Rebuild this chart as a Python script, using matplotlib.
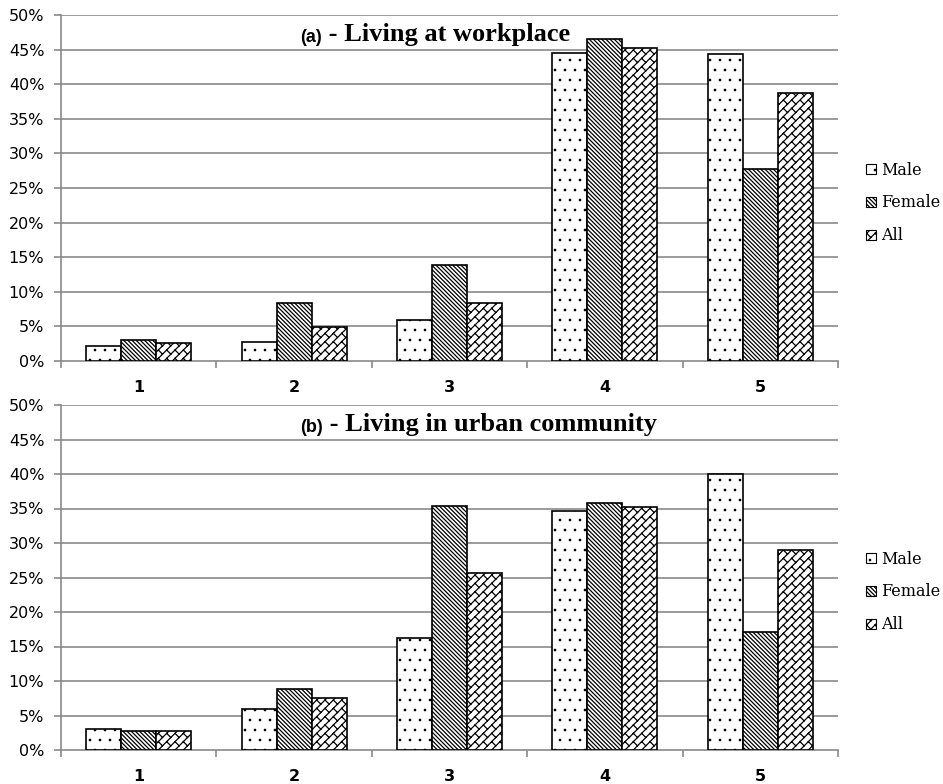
import warnings
warnings.filterwarnings('ignore')
import numpy as np
import matplotlib
matplotlib.use('Agg')
import matplotlib.pyplot as plt
import matplotlib.hatch as mhatch
from matplotlib.path import Path
from matplotlib.patches import Patch

# ---------------- data ----------------
categories = ['1', '2', '3', '4', '5']
series = ['Male', 'Female', 'All']
work_male = [2.2, 2.8, 5.9, 44.5, 44.4]
work_female = [3.0, 8.4, 13.9, 46.5, 27.7]
work_all = [2.6, 4.9, 8.4, 45.2, 38.7]
urban_male = [3.0, 6.0, 16.2, 34.6, 40.0]
urban_female = [2.8, 8.8, 35.4, 35.8, 17.1]
urban_all = [2.8, 7.5, 25.6, 35.2, 29.0]
yticks = [0, 5, 10, 15, 20, 25, 30, 35, 40, 45, 50]
ytick_labels = ['0%', '5%', '10%', '15%', '20%', '25%', '30%', '35%', '40%', '45%', '50%']
titles = [('(a)', ' - Living at workplace'), ('(b)', ' - Living in urban community')]


# ---------------- custom hatches ----------------
class BrickHatch(mhatch.HatchPatternBase):
    """Diagonal brick pattern, selected by the letter 'B'."""
    def __init__(self, hatch, density):
        c = hatch.count('B')
        self.n = 24 * c
        self.nb = 12
        if self.n:
            self.num_vertices = (self.n + 1) * 2 + self.n * self.nb * 2
        else:
            self.num_vertices = 0

    def set_vertices_and_codes(self, vertices, codes):
        n, nb = self.n, self.nb
        d = 1.0 / n
        L = 1.0 / nb
        i = 0
        for k in range(n + 1):
            s = -0.5 + k * d
            vertices[i] = (s, -s)
            vertices[i + 1] = (1 + s, 1 - s)
            codes[i] = Path.MOVETO
            codes[i + 1] = Path.LINETO
            i += 2
        for k in range(n):
            s = -0.5 + k * d
            off = (k % 2) * L / 2
            for j in range(nb):
                t = j * L + off
                vertices[i] = (s + t, -s + t)
                vertices[i + 1] = (s + d + t, -s - d + t)
                codes[i] = Path.MOVETO
                codes[i + 1] = Path.LINETO
                i += 2


class SparseDots(mhatch.Circles):
    """Small sparse dots, selected by the letter 'D'."""
    size = 0.07
    filled = True

    def __init__(self, hatch, density):
        self.num_rows = hatch.count('D') * 10
        super().__init__(hatch, density)


try:
    mhatch._hatch_types.append(BrickHatch)
    mhatch._hatch_types.append(SparseDots)
    hatches = ['D', '\\' * 8, 'B']
except Exception:
    hatches = ['..', '\\' * 8, '//']

plt.rcParams['hatch.linewidth'] = 0.9
plt.rcParams['hatch.color'] = 'black'

W, H = 943, 784
fig = plt.figure(figsize=(W / 100, H / 100), dpi=100)

left, right = 61 / W, 838 / W
panels = [
    (1 - 361 / H, 1 - 15 / H, [work_male, work_female, work_all], 1 - 203 / H),
    (1 - 750 / H, 1 - 405 / H, [urban_male, urban_female, urban_all], 1 - 592 / H),
]

x = np.arange(len(categories))
bw = 0.225
offsets = [-bw, 0, bw]
grid_col = '#8a8a8a'

for pi, (b, t, vals, leg_y) in enumerate(panels):
    ax = fig.add_axes([left, b, right - left, t - b])
    ax.set_xlim(-0.5, len(categories) - 0.5)
    ax.set_ylim(0, 50)
    for yv in yticks[1:]:
        ax.axhline(yv, color=grid_col, lw=1.2, zorder=0)
    for si in range(3):
        ax.bar(x + offsets[si], vals[si], width=bw, facecolor='white',
               edgecolor='black', linewidth=1.2, hatch=hatches[si], zorder=3)
    ax.set_yticks(yticks)
    ax.set_yticklabels(ytick_labels, fontsize=11.5, family='DejaVu Sans')
    ax.set_xticks(x)
    ax.set_xticklabels(categories, fontsize=11.5, fontweight='bold', family='DejaVu Sans')
    ax.set_xticks(np.arange(-0.5, len(categories)), minor=True)
    ax.tick_params(axis='x', which='major', length=0, pad=14)
    ax.tick_params(axis='x', which='minor', length=5, color=grid_col, width=1.2, direction='out')
    ax.tick_params(axis='y', length=5, color=grid_col, width=1.2, pad=7)
    for sp in ['top', 'right']:
        ax.spines[sp].set_visible(False)
    for sp in ['left', 'bottom']:
        ax.spines[sp].set_color(grid_col)
        ax.spines[sp].set_linewidth(1.2)

    t1 = ax.text(1.04, 46.1, titles[pi][0], fontsize=13, fontweight='bold',
                 family='Liberation Sans', ha='left', va='baseline', zorder=5)
    ax.annotate(titles[pi][1], xy=(1.0, 0.0), xycoords=t1, xytext=(0, 0),
                textcoords='offset points', fontsize=19, fontweight='bold',
                family='Liberation Serif', ha='left', va='bottom', zorder=5)

    handles = [Patch(facecolor='white', edgecolor='black', linewidth=0.8,
                     hatch=hatches[si], label=series[si]) for si in range(3)]
    fig.legend(handles=handles, loc='center left', bbox_to_anchor=(866 / W, leg_y),
               frameon=False, borderpad=0, borderaxespad=0, handlelength=0.65,
               handleheight=0.65, handletextpad=0.3, labelspacing=1.0,
               prop={'family': 'DejaVu Serif', 'size': 11.5})

fig.savefig('out.png', dpi=100)
